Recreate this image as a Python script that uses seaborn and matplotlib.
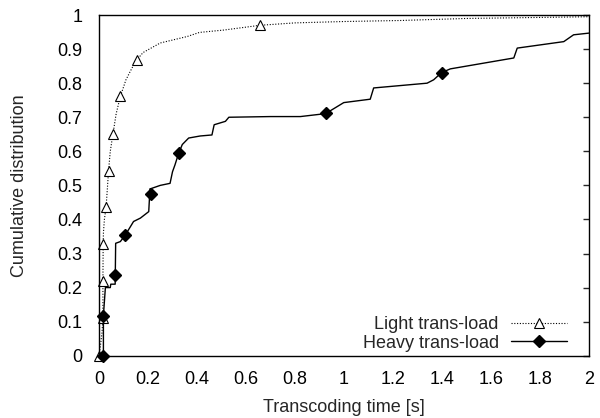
import matplotlib
matplotlib.use("Agg")
import matplotlib.pyplot as plt
from matplotlib.lines import Line2D
import pandas as pd
import seaborn as sns

# CDF curves (x = transcoding time in s, y = cumulative fraction)
light_x = [0, 0.006, 0.012, 0.016, 0.016, 0.017, 0.018, 0.022, 0.029, 0.035, 0.039, 0.046,
           0.057, 0.07, 0.087, 0.11, 0.135, 0.155, 0.18, 0.25, 0.36, 0.41, 0.51, 0.658,
           0.8, 1.0, 1.23, 1.5, 2.0]
light_y = [0, 0.03, 0.066, 0.11, 0.22, 0.328, 0.36, 0.40, 0.436, 0.50, 0.543, 0.60,
           0.651, 0.71, 0.761, 0.81, 0.845, 0.869, 0.89, 0.918, 0.937, 0.949, 0.956, 0.97,
           0.977, 0.981, 0.984, 0.99, 0.995]

heavy_x = [0, 0.018, 0.018, 0.026, 0.046, 0.048, 0.066, 0.068, 0.087, 0.107, 0.125, 0.141,
           0.169, 0.203, 0.208, 0.21, 0.25, 0.29, 0.30, 0.31, 0.325, 0.34, 0.366, 0.413,
           0.461, 0.47, 0.516, 0.53, 0.70, 0.822, 0.917, 0.928, 0.999, 1.107, 1.121,
           1.339, 1.366, 1.398, 1.434, 1.693, 1.707, 1.897, 1.937, 2.0]
heavy_y = [0, 0, 0.118, 0.2, 0.2, 0.21, 0.21, 0.33, 0.335, 0.354, 0.375, 0.394,
           0.404, 0.423, 0.49, 0.49, 0.50, 0.506, 0.54, 0.56, 0.594, 0.62, 0.639, 0.645,
           0.648, 0.678, 0.688, 0.70, 0.702, 0.702, 0.71, 0.712, 0.743, 0.753, 0.786,
           0.80, 0.81, 0.831, 0.842, 0.874, 0.903, 0.922, 0.942, 0.947]

# marker positions (every n-th sample, gnuplot style)
light_mx = [0, 0.016, 0.016, 0.017, 0.029, 0.039, 0.057, 0.087, 0.155, 0.658]
light_my = [0, 0.11, 0.22, 0.328, 0.436, 0.543, 0.651, 0.761, 0.869, 0.972]
heavy_mx = [0.018, 0.018, 0.067, 0.107, 0.212, 0.325, 0.928, 1.398]
heavy_my = [0, 0.118, 0.237, 0.354, 0.474, 0.594, 0.712, 0.831]

labels = ["Light trans-load", "Heavy trans-load"]
x_ticks = [0, 0.2, 0.4, 0.6, 0.8, 1, 1.2, 1.4, 1.6, 1.8, 2]
y_ticks = [0, 0.1, 0.2, 0.3, 0.4, 0.5, 0.6, 0.7, 0.8, 0.9, 1]

sns.set_style("white")
plt.rcParams["font.family"] = ["Liberation Sans", "DejaVu Sans"]
plt.rcParams["font.size"] = 13

light = pd.DataFrame({"x": light_x, "y": light_y})
heavy = pd.DataFrame({"x": heavy_x, "y": heavy_y})

fig = plt.figure(figsize=(6, 4.18), dpi=100)
ax = fig.add_axes([0.165, 0.149, 0.8167, 0.815])

sns.lineplot(data=light, x="x", y="y", estimator=None, sort=False, ax=ax,
             color="black", linestyle=(0, (1, 1.5)), linewidth=0.8)
sns.lineplot(data=heavy, x="x", y="y", estimator=None, sort=False, ax=ax,
             color="black", linewidth=1.0)
ax.plot(light_mx, light_my, linestyle="none", marker="^", markersize=7.5,
        markerfacecolor="white", markeredgecolor="black", markeredgewidth=0.8, clip_on=False)
ax.plot(heavy_mx, heavy_my, linestyle="none", marker="D", markersize=6.5,
        color="black", clip_on=False)

ax.set_xlim(0, 2)
ax.set_ylim(0, 1)
ax.set_xticks(x_ticks)
ax.set_xticklabels([f"{t:g}" for t in x_ticks])
ax.set_yticks(y_ticks)
ax.set_yticklabels([f"{t:g}" for t in y_ticks])
ax.tick_params(direction="out", length=4, width=1, colors="black", labelsize=13)
ax.tick_params(axis="y", pad=8)
ax.tick_params(axis="x", pad=7)
ax.set_xlabel("Transcoding time [s]", fontsize=13, labelpad=8)
ax.set_ylabel("Cumulative distribution", fontsize=13, labelpad=21)

sec = ax.secondary_yaxis("right")
sec.set_yticks(y_ticks)
sec.tick_params(direction="in", length=4, width=1, labelright=False)
sec.spines["right"].set_visible(False)

for s in ax.spines.values():
    s.set_color("black")
    s.set_linewidth(1.0)

handles = [
    Line2D([], [], color="black", linestyle=(0, (1, 1.5)), linewidth=0.8, marker="^",
           markersize=7.5, markerfacecolor="white", markeredgecolor="black", markeredgewidth=0.8),
    Line2D([], [], color="black", linewidth=1.0, marker="D", markersize=6.5),
]
ax.legend(handles, labels, loc="lower right", bbox_to_anchor=(0.956, 0.012),
          markerfirst=False, frameon=False, handlelength=3.1, fontsize=13,
          labelspacing=0.1, borderaxespad=0, borderpad=0, handletextpad=0.7)

fig.savefig("out.png", dpi=100)
